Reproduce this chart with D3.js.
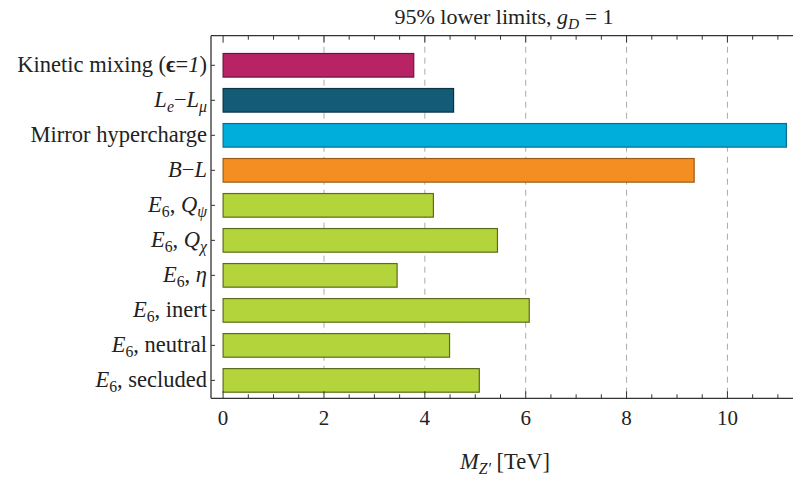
<!DOCTYPE html>
<meta charset="utf-8">
<head>
<style>
body { margin: 0; background: #fff; }
text { font-family: "Liberation Serif", "Times New Roman", serif; fill: #222; }
</style>
<script src="https://d3js.org/d3.v7.min.js"></script>
</head>
<body>
<svg width="793" height="479"></svg>
<script>

// data (TeV)
var models = ["kinetic", "lelmu", "mirror", "bl", "psi", "chi", "eta", "inert", "neutral", "secluded"];
var limits = [3.78, 4.57, 11.17, 9.34, 4.17, 5.44, 3.45, 6.07, 4.49, 5.08];
var fills   = ["#b82366", "#135b76", "#00aedc", "#f58e22", "#b4d43c", "#b4d43c", "#b4d43c", "#b4d43c", "#b4d43c", "#b4d43c"];
var strokes = ["#6a1440", "#0a3444", "#0b6e8a", "#9c5a16", "#5b6c1c", "#5b6c1c", "#5b6c1c", "#5b6c1c", "#5b6c1c", "#5b6c1c"];
var xTicks = [0, 2, 4, 6, 8, 10];
var gridTicks = [2, 4, 6, 8, 10];

// label pieces: i = italic, s = subscript, b = bold
var labels = [
  [{t: "Kinetic mixing ("}, {t: "ϵ", b: 1}, {t: "="}, {t: "1", i: 1}, {t: ")"}],
  [{t: "L", i: 1}, {t: "e", i: 1, s: 1}, {t: "−"}, {t: "L", i: 1}, {t: "μ", i: 1, s: 1}],
  [{t: "Mirror hypercharge"}],
  [{t: "B", i: 1}, {t: "−"}, {t: "L", i: 1}],
  [{t: "E", i: 1}, {t: "6", s: 1}, {t: ",  "}, {t: "Q", i: 1}, {t: "ψ", i: 1, s: 1}],
  [{t: "E", i: 1}, {t: "6", s: 1}, {t: ",  "}, {t: "Q", i: 1}, {t: "χ", i: 1, s: 1}],
  [{t: "E", i: 1}, {t: "6", s: 1}, {t: ", "}, {t: "η", i: 1}],
  [{t: "E", i: 1}, {t: "6", s: 1}, {t: ", inert"}],
  [{t: "E", i: 1}, {t: "6", s: 1}, {t: ", neutral"}],
  [{t: "E", i: 1}, {t: "6", s: 1}, {t: ", secluded"}]
];

var svg = d3.select("svg"),
    width = +svg.attr("width"),
    height = +svg.attr("height");

var plotLeft = 211, plotRight = 793, plotTop = 35.7, plotBottom = 398.3;

var x = d3.scaleLinear()
    .domain([-0.24, 11.3])
    .range([plotLeft, plotRight]);

var y = d3.scalePoint()
    .domain(models)
    .range([65.3, 380.4]);

var barH = 23.6;

function richText(sel, parts) {
  var shifted = false;
  parts.forEach(function(p) {
    var ts = sel.append("tspan").text(p.t);
    if (p.i) ts.attr("font-style", "italic");
    if (p.b) ts.attr("font-weight", "bold");
    if (p.s && !shifted) { ts.attr("dy", 4.5).attr("font-size", "0.7em"); shifted = true; }
    else if (p.s) { ts.attr("font-size", "0.7em"); }
    else if (shifted) { ts.attr("dy", -4.5); shifted = false; }
  });
}

// grid
svg.append("g")
  .selectAll("line")
  .data(gridTicks)
  .enter().append("line")
    .attr("x1", d => x(d)).attr("x2", d => x(d))
    .attr("y1", plotTop).attr("y2", plotBottom)
    .attr("stroke", "#aaa")
    .attr("stroke-width", 1)
    .attr("stroke-dasharray", "6,5");

// bars
svg.append("g")
  .selectAll("rect")
  .data(models)
  .enter().append("rect")
    .attr("x", x(0))
    .attr("y", d => y(d) - barH / 2)
    .attr("width", (d, i) => x(limits[i]) - x(0))
    .attr("height", barH)
    .attr("fill", (d, i) => fills[i])
    .attr("stroke", (d, i) => strokes[i])
    .attr("stroke-width", 1.2);

// frame
var frame = svg.append("g").attr("stroke", "#333").attr("stroke-width", 1.3);
frame.append("line").attr("x1", plotLeft).attr("x2", plotRight).attr("y1", plotTop).attr("y2", plotTop);
frame.append("line").attr("x1", plotLeft).attr("x2", plotRight).attr("y1", plotBottom).attr("y2", plotBottom);
frame.append("line").attr("x1", plotLeft).attr("x2", plotLeft).attr("y1", plotTop).attr("y2", plotBottom);

// ticks on top and bottom
var minor = d3.range(0, 11.01, 0.5);
var tk = svg.append("g").attr("stroke", "#333").attr("stroke-width", 1);
minor.forEach(function(v) {
  var len = (v % 2 === 0) ? 7 : 4;
  tk.append("line").attr("x1", x(v)).attr("x2", x(v)).attr("y1", plotTop).attr("y2", plotTop + len);
  tk.append("line").attr("x1", x(v)).attr("x2", x(v)).attr("y1", plotBottom).attr("y2", plotBottom - len);
});
models.forEach(function(m) {
  tk.append("line").attr("x1", plotLeft).attr("x2", plotLeft + 4).attr("y1", y(m)).attr("y2", y(m));
});

// tick labels
svg.append("g")
  .selectAll("text")
  .data(xTicks)
  .enter().append("text")
    .attr("x", d => x(d))
    .attr("y", 425)
    .attr("text-anchor", "middle")
    .attr("font-size", 21)
    .text(d => d);

// category labels
models.forEach(function(m, i) {
  var t = svg.append("text")
    .attr("x", 207)
    .attr("y", y(m) + 7)
    .attr("text-anchor", "end")
    .attr("font-size", 22.5);
  richText(t, labels[i]);
});

// title
var title = svg.append("text")
  .attr("x", 504).attr("y", 24)
  .attr("text-anchor", "middle")
  .attr("font-size", 22);
richText(title, [{t: "95% lower limits, "}, {t: "g", i: 1}, {t: "D", i: 1, s: 1}, {t: " = 1"}]);

// x axis label
var xl = svg.append("text")
  .attr("x", 505).attr("y", 469)
  .attr("text-anchor", "middle")
  .attr("font-size", 22.5);
richText(xl, [{t: "M", i: 1}, {t: "Z′", i: 1, s: 1}, {t: " [TeV]"}]);

</script>
</body>
